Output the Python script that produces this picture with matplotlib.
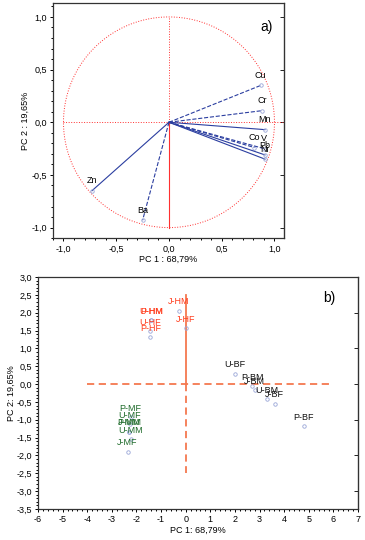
import matplotlib.pyplot as plt
from matplotlib.ticker import MultipleLocator, FuncFormatter
import numpy as np

plt.rcParams['font.family'] = ['Liberation Sans', 'DejaVu Sans']

# --- a) loadings
var_names = ['Cu', 'Cr', 'Mn', 'Co', 'V', 'Pb', 'Ni', 'Zn', 'Ba']
pc1_load = [0.87, 0.88, 0.91, 0.81, 0.90, 0.91, 0.91, -0.73, -0.25]
pc2_load = [0.35, 0.11, -0.07, -0.24, -0.25, -0.31, -0.35, -0.65, -0.93]
load_style = ['--', '--', '-', '--', '--', '-', '-', '-', '--']

# --- b) scores
sample_names = ['J-HM', 'J-HF', 'P-HM', 'U-HM', 'U-HF', 'P-HF',
                'P-MF', 'U-MF', 'P-MM', 'J-MM', 'U-MM', 'J-MF',
                'U-BF', 'P-BM', 'J-BM', 'U-BM', 'J-BF', 'P-BF']
pc1_score = [-0.29, 0.0, -1.39, -1.39, -1.44, -1.43,
             -2.24, -2.28, -2.31, -2.31, -2.24, -2.36,
             2.0, 2.70, 2.80, 3.29, 3.61, 4.80]
pc2_score = [2.06, 1.57, 1.79, 1.79, 1.49, 1.32,
             -0.92, -1.13, -1.33, -1.33, -1.55, -1.89,
             0.29, -0.06, -0.17, -0.43, -0.55, -1.17]
groups = ['H'] * 6 + ['M'] * 6 + ['B'] * 6
group_colors = {'H': '#ff3a1a', 'M': '#1e6b2a', 'B': '#111111'}

comma = FuncFormatter(lambda v, p: ('%.1f' % v).replace('.', ','))

fig = plt.figure(figsize=(3.65, 5.4), dpi=100)


def style_axes(ax):
    ax.tick_params(which='both', labelsize=6.5, width=0.7, direction='out', pad=2)
    ax.tick_params(which='major', length=2.5)
    ax.tick_params(which='minor', length=1.2)
    for s in ax.spines.values():
        s.set_linewidth(0.9)
        s.set_color('#333333')
    sec = ax.secondary_yaxis('right')
    sec.tick_params(which='both', direction='in', labelright=False, width=0.6)
    sec.tick_params(which='major', length=3)
    sec.tick_params(which='minor', length=1.5)
    return sec


# ---------- top panel
ax1 = fig.add_axes([0.145, 0.559, 0.633, 0.435])
t = np.linspace(0, 2 * np.pi, 300)
ax1.plot(np.cos(t), np.sin(t), color='#ff3030', lw=0.7, ls=':')
ax1.plot([-1, 1.1], [0, 0], color='#ff3030', lw=0.7, ls=':')
ax1.plot([0, 0], [0, 1], color='#ff3030', lw=0.7, ls=':')
ax1.plot([0, 0], [0, -1], color='#ff3030', lw=0.8, ls='-')
for name, x, y, ls in zip(var_names, pc1_load, pc2_load, load_style):
    ax1.plot([0, x], [0, y], color='#2b3ea0', lw=0.8, ls=ls)
    ax1.plot(x, y, 'o', ms=2.5, mfc='none', mec='#9aa6d8', mew=0.6)
    ax1.text(x, y + 0.05, name, fontsize=6.5, ha='center', va='bottom')
ax1.set_xlim(-1.1, 1.09)
ax1.set_ylim(-1.1, 1.13)
ax1.xaxis.set_major_locator(MultipleLocator(0.5))
ax1.yaxis.set_major_locator(MultipleLocator(0.5))
ax1.xaxis.set_minor_locator(MultipleLocator(0.1))
ax1.yaxis.set_minor_locator(MultipleLocator(0.1))
ax1.xaxis.set_major_formatter(comma)
ax1.yaxis.set_major_formatter(comma)
style_axes(ax1)
ax1.set_xlabel('PC 1 : 68,79%', fontsize=6.5, labelpad=1)
ax1.set_ylabel('PC 2 : 19,65%', fontsize=6.5, labelpad=1)
ax1.text(0.95, 0.93, 'a)', transform=ax1.transAxes, fontsize=10,
         ha='right', va='top')

# ---------- bottom panel
ax2 = fig.add_axes([0.104, 0.0574, 0.877, 0.4296])
ax2.plot([-4, 6], [0, 0], color='#f4784f', lw=1.3, ls=(0, (4, 2.5)))
ax2.plot([0, 0], [0, 2.5], color='#f4784f', lw=1.3, ls='-')
ax2.plot([0, 0], [0, -2.5], color='#f4784f', lw=1.3, ls=(0, (4, 2.5)))
for name, x, y, g in zip(sample_names, pc1_score, pc2_score, groups):
    ax2.plot(x, y, 'o', ms=2.5, mfc='none', mec='#9aa6d8', mew=0.6)
    ax2.text(x, y + 0.12, name, fontsize=6.5, ha='center', va='bottom',
             color=group_colors[g])
ax2.set_xlim(-6, 7)
ax2.set_ylim(-3.5, 3.0)
ax2.xaxis.set_major_locator(MultipleLocator(1))
ax2.yaxis.set_major_locator(MultipleLocator(0.5))
ax2.xaxis.set_minor_locator(MultipleLocator(0.2))
ax2.yaxis.set_minor_locator(MultipleLocator(0.1))
ax2.xaxis.set_major_formatter(FuncFormatter(lambda v, p: '%d' % v))
ax2.yaxis.set_major_formatter(comma)
style_axes(ax2)
ax2.set_xlabel('PC 1: 68,79%', fontsize=6.5, labelpad=1)
ax2.set_ylabel('PC 2: 19,65%', fontsize=6.5, labelpad=0)
ax2.text(0.93, 0.94, 'b)', transform=ax2.transAxes, fontsize=10,
         ha='right', va='top')

fig.savefig('out.png', dpi=100)
